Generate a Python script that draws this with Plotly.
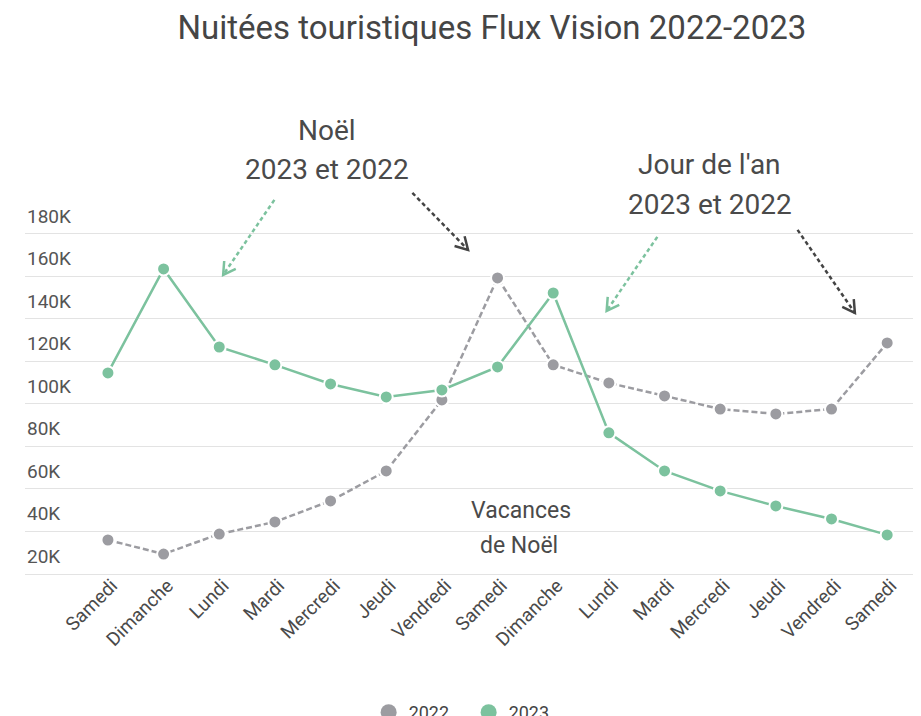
import math
import plotly.graph_objects as go

days = ["Samedi", "Dimanche", "Lundi", "Mardi", "Mercredi", "Jeudi", "Vendredi",
        "Samedi", "Dimanche", "Lundi", "Mardi", "Mercredi", "Jeudi", "Vendredi", "Samedi"]
y2022 = [36000, 29400, 38800, 44500, 54400, 68500, 101900, 159300,
         118400, 109900, 103800, 97600, 95300, 97600, 128700]
y2023 = [114600, 163500, 126800, 118400, 109400, 103300, 106600, 117400,
         152200, 86400, 68500, 59100, 52000, 45900, 38400]
ytick_vals = [20000, 40000, 60000, 80000, 100000, 120000, 140000, 160000, 180000]
ytick_text = ["20K", "40K", "60K", "80K", "100K", "120K", "140K", "160K", "180K"]

GREEN = "#7cc29e"
GREY = "#9c9ca1"
DARK = "#444444"
TEXT = "#4a4a4a"
FONT = "Roboto"

# figure is placed with the page's 8px body margin
W, H = 913, 708
ML, MR, MT, MB = 17, 6, 92, 142
XR = [-1.49, 14.5]
YR = [20000, 243000]
xs = list(range(len(days)))

PX_X = (W - ML - MR) / (XR[1] - XR[0])
PX_Y = (H - MT - MB) / (YR[1] - YR[0])

fig = go.Figure()
fig.add_trace(go.Scatter(
    x=xs, y=y2022, mode="lines+markers", name="2022", showlegend=False,
    line=dict(color=GREY, width=2.5, dash="6px,3px"),
    marker=dict(color=GREY, size=13, line=dict(color="white", width=2)),
))
fig.add_trace(go.Scatter(
    x=xs, y=y2023, mode="lines+markers", name="2023", showlegend=False,
    line=dict(color=GREEN, width=2.5),
    marker=dict(color=GREEN, size=13, line=dict(color="white", width=2)),
))
fig.add_trace(go.Scatter(x=[None], y=[None], mode="markers", name="2022",
                         marker=dict(color=GREY, size=16)))
fig.add_trace(go.Scatter(x=[None], y=[None], mode="markers", name="2023",
                         marker=dict(color=GREEN, size=16)))

for v, t in zip(ytick_vals, ytick_text):
    fig.add_annotation(x=0, xref="paper", xanchor="left", y=v, yanchor="bottom",
                       yshift=4, text=t, showarrow=False,
                       font=dict(family=FONT, size=19, color="#555555"))

texts = [
    ("Noël", 3.94, 228500, 28),
    ("2023 et 2022", 3.94, 210100, 28),
    ("Jour de l'an", 10.81, 212500, 28),
    ("2023 et 2022", 10.81, 193700, 28),
    ("Vacances", 7.43, 50100, 23),
    ("de Noël", 7.39, 33200, 23),
]
for t, x, y, s in texts:
    fig.add_annotation(x=x, y=y, text=t, showarrow=False,
                       font=dict(family=FONT, size=s, color=TEXT))

arrows = [
    (2.99, 196000, 2.07, 160700, GREEN),
    (5.47, 199300, 6.47, 172500, DARK),
    (9.87, 178600, 8.96, 143800, GREEN),
    (12.39, 181900, 13.42, 142800, DARK),
]
for x0, y0, x1, y1, c in arrows:
    fig.add_shape(type="line", x0=x0, y0=y0, x1=x1, y1=y1,
                  line=dict(color=c, width=2.5, dash="4px,3px"))
    dxp = (x1 - x0) * PX_X
    dyp = (y1 - y0) * PX_Y
    ang = math.atan2(dyp, dxp)
    L = 14
    pts = []
    for a in (ang + math.radians(150), ang - math.radians(150)):
        pts.append((x1 + L * math.cos(a) / PX_X, y1 + L * math.sin(a) / PX_Y))
    path = f"M {pts[0][0]},{pts[0][1]} L {x1},{y1} L {pts[1][0]},{pts[1][1]}"
    fig.add_shape(type="path", path=path, line=dict(color=c, width=2.5))

fig.update_layout(
    width=W, height=H,
    margin=dict(l=ML, r=MR, t=MT, b=MB, autoexpand=False),
    paper_bgcolor="white", plot_bgcolor="white",
    font=dict(family=FONT, color=TEXT),
    title=dict(text="Nuitées touristiques Flux Vision 2022-2023",
               x=0.530, xanchor="center", y=0.972, yanchor="middle",
               font=dict(family=FONT, size=33, color="#454545")),
    xaxis=dict(range=XR, tickmode="array", tickvals=xs, ticktext=days,
               tickangle=-45, showgrid=False, zeroline=False, automargin=False,
               showline=True, linecolor="#e3e3e3", linewidth=1,
               ticklabelstandoff=-8, ticklabelshift=4,
               tickfont=dict(family=FONT, size=19, color="#4a4a4a")),
    yaxis=dict(range=YR, tickmode="array", tickvals=ytick_vals,
               showticklabels=False, automargin=False,
               showgrid=True, gridcolor="#e3e3e3", gridwidth=1, zeroline=False),
    legend=dict(orientation="h", xref="container", yref="container",
                x=0.395, xanchor="left", y=0.005, yanchor="middle",
                entrywidth=55, entrywidthmode="pixels",
                font=dict(family=FONT, size=18, color="#444444")),
    showlegend=True,
)

fig.write_html("out.html")
